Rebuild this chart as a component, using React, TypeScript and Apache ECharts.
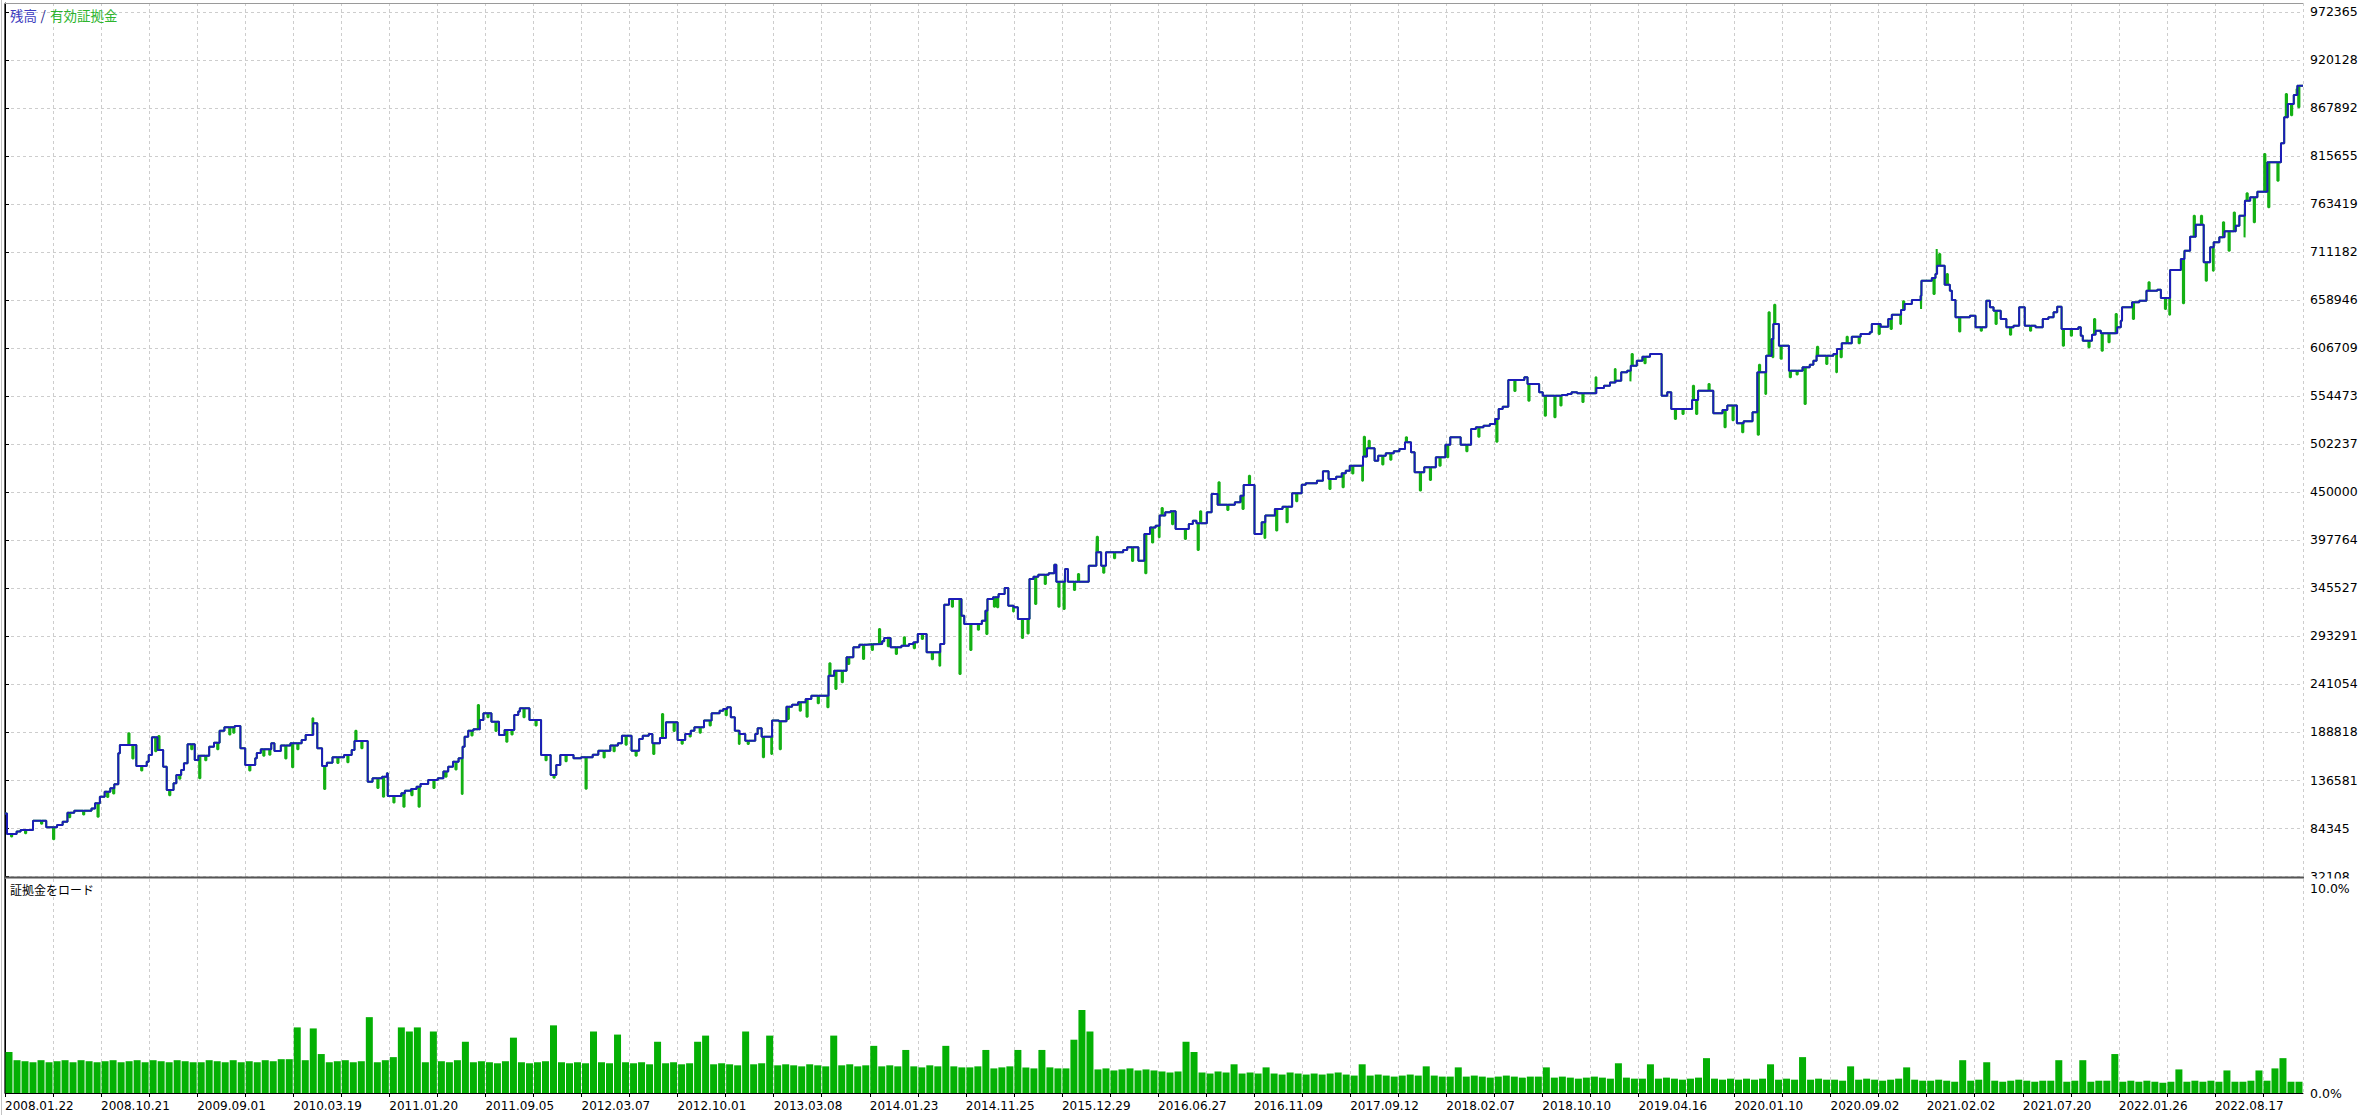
import React, { useEffect, useRef } from 'react';
import * as echarts from 'echarts';

// ---- axis texts ----
const dateLabels = [
  '2008.01.22', '2008.10.21', '2009.09.01', '2010.03.19', '2011.01.20', '2011.09.05',
  '2012.03.07', '2012.10.01', '2013.03.08', '2014.01.23', '2014.11.25', '2015.12.29',
  '2016.06.27', '2016.11.09', '2017.09.12', '2018.02.07', '2018.10.10', '2019.04.16',
  '2020.01.10', '2020.09.02', '2021.02.02', '2021.07.20', '2022.01.26', '2022.08.17',
];
const yTickLabels = [
  '32108', '84345', '136581', '188818', '241054', '293291', '345527', '397764', '450000',
  '502237', '554473', '606709', '658946', '711182', '763419', '815655', '867892', '920128', '972365',
];
const Y_MIN = 32108;
const Y_STEP = 52236.5;
const Y_TOP = 982159;
const TRADES = 574;
const LABEL_EVERY = 24;
const GRID_EVERY = 12;

// ---- balance: [trade number, balance after that trade] ----
const balance: [number, number][] = [
  [0,100000],[0.5,77800],[2.9,80400],[3.9,82200],[7,92300],[10.3,85100],[13,87600],[14.4,91200],[15.6,101000],[17.3,103200],
  [21.6,105700],[22.5,111200],[23.7,118400],[24.9,123900],[26.3,127500],[27.3,131900],[28.3,165600],[28.7,174700],[32.8,151800],[35.4,156500],
  [35.9,163800],[36.7,183000],[38.1,169200],[39.5,151100],[40.4,125700],[42.1,133000],[42.8,142000],[44,147500],[44.7,154700],[45.6,175400],
  [47.4,158400],[48.3,163100],[51,172900],[52.2,177200],[53.6,190300],[54.8,193900],[57.4,195400],[58.8,171000],[60,152900],[62.5,160200],
  [62.9,166000],[63.9,170000],[66.5,176500],[67.3,168100],[68.9,174000],[71.3,176500],[74.1,180100],[75.1,185600],[77,198300],[78,171000],
  [79.2,151800],[80.4,155400],[81.8,161300],[84.7,163800],[86.6,169200],[87.3,179000],[90.6,134800],[91.8,138400],[94.2,140200],[95.4,143800],
  [95.6,119200],[99,122100],[99.9,125000],[101.4,126800],[102.8,129300],[103.8,132200],[105.7,136600],[108.1,138400],[109.5,145700],[110.7,151100],
  [111.9,156500],[113.3,160200],[114.3,172900],[114.8,183700],[115.7,190300],[117,191700],[118.6,201900],[119.5,209100],[121.5,200100],[123.4,185600],
  [124.8,191000],[127.2,207300],[128.2,211000],[128.6,214600],[131,201900],[133.9,163800],[136.3,142000],[137.7,152900],[138.7,163800],[142,160200],
  [143.9,161300],[146.8,164000],[148.2,168500],[151.2,174000],[153.1,176500],[154.1,184800],[156.5,168500],[158.4,181200],[159.3,184800],[160.8,186700],
  [161.7,176500],[163.6,182300],[165.1,199300],[168,180100],[169.9,186700],[171.3,190300],[172.2,193900],[174.6,201200],[176.5,209100],[178.5,212000],
  [179.4,213900],[180.4,215700],[181.3,204800],[182.3,190300],[183.5,186700],[184.9,179400],[187.4,186700],[188,192800],[189,183700],[191.6,201200],
  [193.3,200400],[195.2,216400],[196.6,218600],[198.1,221100],[200,224700],[201.4,228400],[205.7,250100],[207.1,255600],[210.2,270100],[211.9,281000],
  [213.4,283900],[215.3,284600],[219.1,287500],[219.6,291100],[221.2,281000],[223.9,282800],[225.8,284600],[226.9,286400],[228,295500],[230.2,275500],
  [233.6,284600],[234.6,327400],[235.8,333600],[238.9,315400],[239.6,306400],[244,310000],[244.9,320900],[245.4,333600],[246.8,335400],[248.2,339000],
  [249.7,345500],[250.6,326300],[252,324500],[253,311800],[255.9,355300],[256.9,357900],[258.1,360000],[260.7,361500],[262.1,370900],[262.6,352400],
  [264.8,366200],[265.5,352400],[270.7,369800],[272.6,384300],[273.8,369800],[275,384300],[279.3,386900],[280.3,389800],[283.1,375300],[284.6,404300],
  [286,411500],[287.4,413400],[288.4,424300],[289.8,427900],[291.1,429000],[292.4,409700],[295.7,415200],[296.7,418800],[297.6,415900],[300.2,427900],
  [301.4,447800],[302.9,436200],[307.2,438800],[308.6,446000],[309.4,457600],[312.1,404300],[313.9,417000],[314.8,424300],[317.2,431500],[319.1,434000],
  [321.5,448600],[323.9,458000],[324.9,459400],[327.7,462300],[329.2,472500],[330.6,464200],[332.5,466700],[333.9,470300],[334.9,473200],[335.9,478700],
  [339.2,488500],[340.2,497500],[342.1,484100],[343,489500],[344.9,492100],[346.9,494300],[348.3,496800],[349.7,504100],[351.2,493200],[352.1,471400],
  [354.5,476800],[357.4,487700],[359.8,501500],[361,509500],[363.6,501500],[366.2,518600],[367.4,520400],[369.3,522200],[370.9,524000],[372.2,529400],
  [373.1,540300],[374.1,542900],[375.5,571900],[379.5,574800],[380.3,567500],[383.2,558500],[384.1,554800],[388.9,555600],[390.3,556700],[391.3,558500],
  [392.7,557400],[397.5,563200],[399.4,565700],[400.9,569300],[402.3,571200],[403.7,580200],[405.2,582000],[406.1,587500],[407.6,592900],[409,597300],
  [410.9,600200],[413.8,554800],[415.2,558500],[416.2,540300],[421.4,550100],[422.9,560300],[426.7,535600],[429,539200],[430.2,544000],[432.6,524700],
  [434.3,526900],[436.5,536700],[437.7,580200],[439.9,598400],[441.3,616500],[441.7,632800],[443.1,609200],[445.6,582000],[449,585700],[450.8,588600],
  [451.7,592900],[452.5,598400],[456.7,600200],[457.6,605600],[458.8,611800],[461.3,619000],[463.5,621900],[465.8,623800],[466.3,632800],[468.5,629900],
  [470.4,638300],[471.3,643000],[473.6,648100],[474.5,654600],[476.3,659000],[478.5,663700],[478.7,680000],[481.3,682900],[482.2,687200],[482.6,696300],
  [484.5,675600],[485.8,669100],[486.3,659000],[487.2,640100],[490.8,641900],[492.2,629200],[494.9,658200],[495.8,651000],[496.7,647300],[498.5,638300],
  [499.9,629200],[501.7,631000],[503.1,651000],[504.5,631000],[507.2,629200],[509,638300],[510.4,640100],[511.7,645500],[512.6,651700],[513.7,627400],
  [517.9,629200],[518.5,620100],[519,614700],[521.3,621200],[522.2,625600],[523.5,622700],[527.6,629200],[528.5,636500],[528.8,651000],[531.3,656400],
  [533.1,658200],[534.9,669100],[537.6,670200],[538.5,661100],[540.8,691600],[543.5,703600],[544.4,712600],[545.8,727900],[547.2,740900],[549.2,699900],
  [550.8,716300],[551.7,721700],[553.1,727100],[554.4,733700],[557.2,739800],[558.1,750700],[559.5,767000],[560.8,770700],[562.6,776700],[565.1,808800],
  [568.5,829400],[569.3,857700],[570.2,872200],[571.7,882000],[572.6,892200],[574,892200],
];

// ---- equity extremes while trades were open: [trade number, equity] ----
const equityNeedles: [number, number][] = [
  [1.5,75000],[5,78500],[9,89000],[12,72000],[16,96000],[19.5,99000],[23.1,96700],[25.5,118000],[27,122000],[30.8,187400],
  [31.8,160000],[34,147000],[37.5,168000],[38.3,184400],[41,120000],[43.5,138000],[46.5,170000],[48.5,138400],[50,158000],[53,170000],
  [56,186000],[57,188000],[61,147000],[64.5,163000],[66,164000],[70,160000],[71.7,150400],[73,170000],[76.8,203700],[79.7,126800],
  [83,155000],[85.5,156000],[87.5,190300],[89,171000],[93,128000],[94.4,118400],[97,112000],[99.5,107600],[101.5,120000],[103.3,107600],
  [107,128000],[110,140000],[112.5,148000],[114.1,121300],[116.5,185000],[118.1,218200],[120.5,205000],[122.5,190000],[125.2,178300],[126.5,186000],
  [129.5,205000],[132.5,196000],[135,158000],[137,139000],[140,157000],[145,127000],[149.5,161000],[152,168000],[155,175000],[157.5,163000],
  [161.9,164900],[164.1,208400],[167,190000],[169,176000],[171,184000],[173.5,188000],[176,196000],[180,207000],[183.3,175800],[185.5,175800],
  [189.3,161250],[191.4,165000],[193.5,170000],[195.5,203000],[198.5,212000],[200.2,205500],[203,220000],[205.4,215700],[205.9,263500],[207.4,235600],
  [209,243000],[210.6,262800],[214.3,268300],[216.5,278000],[218.3,300900],[220.5,282000],[222.5,273700],[224.5,291800],[227,280000],[229,290000],
  [231.5,268000],[233.4,261000],[236.5,325000],[238.4,251900],[241.1,278000],[243,300000],[245.1,295500],[247,325000],[247.8,324500],[251.8,320000],
  [254,291000],[255.4,296000],[257.3,328100],[259.7,349900],[263.1,325200],[264.4,322700],[267,343400],[268,360800],[272.7,401400],[274.3,362000],
  [277,378000],[281.5,375000],[284.8,361500],[286.5,395000],[288.2,400700],[288.9,432600],[291.5,415000],[294.7,398800],[297.9,386900],[298.5,429000],
  [303.1,460500],[305.3,430400],[309.1,431500],[310.7,467800],[314.6,400000],[317.5,408000],[320.1,417000],[322.5,440000],[330.8,453300],[334.1,455100],
  [336.5,470000],[339,462300],[339.4,510200],[340.6,505900],[344,480000],[346,485000],[349.9,509500],[353.4,451500],[355.9,463100],[358.3,478700],
  [360.2,487700],[365,494300],[368,510000],[372.5,504800],[377,560000],[380.5,549400],[384.6,533100],[387,531300],[388.5,544000],[394,548000],
  [397.3,574800],[402.1,583900],[406,570400],[406.3,600200],[409.5,590000],[417.1,529400],[419,535000],[421.6,565700],[422.4,534900],[425.5,567500],
  [429.5,520400],[431.5,528000],[433.9,514900],[437.8,512400],[438.1,588600],[439.7,556600],[440.5,645500],[441.5,596600],[441.9,653900],[443.5,595000],
  [445.8,574800],[447.5,578000],[449.5,545800],[452.6,608100],[454.9,589300],[457.4,580200],[458.5,596600],[460,619000],[463,612000],[468,622000],
  [471,627400],[473.4,632800],[474.1,657500],[478.6,649100],[481.7,665500],[482.5,714400],[483.1,709000],[485,687200],[488.1,624800],[493.5,625600],
  [497.2,632800],[500.8,621200],[505.8,625600],[514,609200],[516,620000],[520.4,607400],[521.8,638300],[523.7,603800],[525.4,612900],[527.2,643700],
  [531.5,638300],[535.4,678200],[539.5,649100],[540.6,642900],[544,655300],[546.7,750700],[548.5,750700],[549.7,680000],[551.5,690800],[554,743500],
  [555.4,712600],[556.7,754300],[559.4,727100],[559.9,775000],[561.7,743500],[564.3,817800],[565.3,759800],[567.6,788800],[569.7,883100],[571,860000],
  [572.4,888600],[572.8,868600],
];

// ---- margin load in %, one bar per two trades ----
const marginLoad: number[] = [
  2.0,1.6,1.55,1.5,1.6,1.5,1.55,1.6,1.5,1.6,1.55,1.5,
  1.55,1.6,1.5,1.55,1.6,1.5,1.6,1.55,1.5,1.6,1.55,1.5,
  1.5,1.6,1.55,1.5,1.6,1.5,1.55,1.5,1.6,1.55,1.65,1.65,
  3.2,1.6,3.15,1.9,1.5,1.55,1.6,1.5,1.55,3.7,1.5,1.6,
  1.75,3.2,3.0,3.2,1.5,3.0,1.55,1.5,1.6,2.5,1.5,1.55,
  1.5,1.45,1.55,2.7,1.5,1.45,1.5,1.55,3.3,1.5,1.45,1.5,
  1.45,3.0,1.5,1.45,2.85,1.5,1.45,1.5,1.4,2.5,1.45,1.5,
  1.4,1.45,2.5,2.8,1.4,1.45,1.4,1.35,3.0,1.4,1.45,2.8,
  1.35,1.4,1.35,1.3,1.4,1.35,1.3,2.8,1.35,1.4,1.3,1.35,
  2.3,1.3,1.35,1.3,2.1,1.3,1.25,1.35,1.3,2.3,1.3,1.25,
  1.25,1.3,2.1,1.2,1.25,1.3,2.1,1.25,1.2,2.1,1.25,1.2,
  1.2,2.6,4.05,3.0,1.15,1.2,1.1,1.15,1.2,1.1,1.15,1.1,
  1.05,1.0,1.05,2.5,2.0,1.0,0.95,1.05,1.0,1.4,0.95,1.0,
  0.95,1.25,0.95,0.9,1.0,0.95,0.9,0.95,0.9,0.95,1.0,0.9,
  0.85,1.4,0.85,0.9,0.85,0.8,0.85,0.9,0.85,1.3,0.85,0.8,
  0.8,1.25,0.8,0.85,0.8,0.75,0.8,0.85,0.8,0.75,0.8,0.8,
  1.25,0.75,0.8,0.75,0.7,0.75,0.8,0.75,0.7,1.45,0.75,0.7,
  0.7,1.4,0.7,0.75,0.7,0.65,0.7,0.75,1.7,0.7,0.65,0.7,
  0.65,0.7,0.65,0.7,1.4,0.65,0.7,0.65,1.75,0.65,0.7,0.65,
  0.65,0.6,1.3,0.65,0.7,0.65,0.6,0.65,0.7,1.25,0.65,0.6,
  0.6,0.65,0.6,0.55,1.6,0.6,0.65,1.5,0.6,0.55,0.6,0.65,
  0.6,0.55,0.6,0.6,1.6,0.55,0.6,1.6,0.55,0.6,0.6,1.9,
  0.55,0.6,0.55,0.6,0.55,0.5,0.55,1.15,0.55,0.6,0.55,0.6,
  0.55,1.1,0.55,0.55,0.6,1.1,0.6,1.2,1.7,0.55,0.55,
];

const NUM_FONT = "'DejaVu Sans', Verdana, sans-serif";
const CJK_FONT = "'Noto Sans CJK JP', 'Noto Sans', sans-serif";
const GRID_COLOR = '#cdcdcd';

function balanceAt(t: number): number {
  let v = balance[0][1];
  for (const p of balance) {
    if (p[0] <= t) v = p[1];
    else break;
  }
  return v;
}

function buildEquity(): [number, number][] {
  const pts: [number, number][] = balance.map((p) => [p[0], p[1]] as [number, number]);
  const w = 0.3;
  for (const [t, v] of equityNeedles) {
    pts.push([t, v]);
    pts.push([t + w, balanceAt(t + w)]);
  }
  pts.sort((a, b) => a[0] - b[0]);
  return pts;
}

export default function App() {
  const ref = useRef<HTMLDivElement>(null);
  useEffect(() => {
    document.body.style.margin = '0';
    if (!ref.current) return;
    const chart = echarts.init(ref.current, undefined, { renderer: 'svg' });

    const equity = buildEquity().map(([x, y]) => [x, y - Y_MIN]);
    const bal = balance.map(([x, y]) => [x, y - Y_MIN]);
    const bars = marginLoad.map((v, i) => [i * 2 + 1, v]);

    const yFmt = (v: number) => {
      const k = Math.round(v / Y_STEP);
      if (Math.abs(v - k * Y_STEP) > 1) return '';
      return yTickLabels[k] ?? '';
    };
    const xFmt = (v: number) => {
      if (v % LABEL_EVERY !== 0) return '';
      return dateLabels[v / LABEL_EVERY] ?? '';
    };

    const dashed = { color: GRID_COLOR, type: [3, 3] as any, width: 1 };

    chart.setOption({
      animation: false,
      backgroundColor: '#ffffff',
      grid: [
        { left: 5, right: 65, top: 3, height: 873, show: false },
        { left: 5, right: 65, top: 879, bottom: 22, show: false },
      ],
      xAxis: [
        {
          type: 'value', gridIndex: 0, min: 0, max: TRADES, interval: GRID_EVERY,
          axisLine: { show: false }, axisTick: { show: false }, axisLabel: { show: false },
          splitLine: { show: true, lineStyle: dashed },
        },
        {
          type: 'value', gridIndex: 1, min: 0, max: TRADES, interval: GRID_EVERY,
          axisLine: { show: true, onZero: false, lineStyle: { color: '#000', width: 1 } },
          axisTick: { show: true, length: 4, lineStyle: { color: '#000' } },
          axisLabel: {
            show: true, formatter: xFmt, align: 'left', margin: 7, color: '#000',
            fontFamily: NUM_FONT, fontSize: 12, showMaxLabel: false,
          },
          splitLine: { show: true, lineStyle: dashed },
        },
      ],
      yAxis: [
        {
          type: 'value', gridIndex: 0, position: 'right', min: 0, max: Y_TOP - Y_MIN, interval: Y_STEP,
          axisLine: { show: true, lineStyle: { color: '#000', width: 1 } },
          axisTick: { show: true, length: 4, lineStyle: { color: '#000' } },
          axisLabel: {
            formatter: yFmt, margin: 7, color: '#000', fontFamily: NUM_FONT, fontSize: 12.5,
            showMaxLabel: false,
          },
          splitLine: { show: true, lineStyle: dashed },
        },
        {
          type: 'value', gridIndex: 1, position: 'right', min: 0, max: 10.44, interval: 10,
          axisLine: { show: true, lineStyle: { color: '#000', width: 1 } },
          axisTick: { show: false },
          axisLabel: {
            formatter: (v: number) => (v === 0 || v === 10 ? v.toFixed(1) + '%' : ''),
            margin: 7, color: '#000', fontFamily: NUM_FONT, fontSize: 12.5, showMaxLabel: false,
          },
          splitLine: { show: false },
        },
      ],
      series: [
        {
          name: '有効証拠金', type: 'line', xAxisIndex: 0, yAxisIndex: 0, step: 'end',
          symbol: 'none', data: equity, z: 2,
          lineStyle: { color: '#14b014', width: 2 },
        },
        {
          name: '残高', type: 'line', xAxisIndex: 0, yAxisIndex: 0, step: 'end',
          symbol: 'none', data: bal, z: 3,
          lineStyle: { color: '#1c1cb8', width: 2 },
        },
        {
          name: '証拠金をロード', type: 'bar', xAxisIndex: 1, yAxisIndex: 1,
          barWidth: 7, data: bars, itemStyle: { color: '#04b004' },
        },
      ],
      graphic: [
        { type: 'line', shape: { x1: 1.5, y1: 0, x2: 1.5, y2: 1115 }, style: { stroke: '#c4c4c4', lineWidth: 1 }, z: 50 },
        { type: 'line', shape: { x1: 4.5, y1: 3, x2: 4.5, y2: 1093 }, style: { stroke: '#606060', lineWidth: 1 }, z: 50 },
        { type: 'line', shape: { x1: 4, y1: 3.5, x2: 2303, y2: 3.5 }, style: { stroke: '#9a9a9a', lineWidth: 1 }, z: 50 },
        { type: 'rect', shape: { x: 2305, y: 878.5, width: 63, height: 5 }, style: { fill: '#ffffff' }, z: 60 },
        { type: 'line', shape: { x1: 4, y1: 877.5, x2: 2304, y2: 877.5 }, style: { stroke: '#555555', lineWidth: 2 }, z: 61 },
        {
          type: 'text', x: 10, y: 15, z: 70,
          style: { text: '残高', fill: '#3c3cc0', font: `13.5px ${CJK_FONT}`, verticalAlign: 'middle' },
        },
        {
          type: 'text', x: 40.5, y: 15, z: 70,
          style: { text: '/', fill: '#1c1c8c', font: `13.5px ${CJK_FONT}`, verticalAlign: 'middle' },
        },
        {
          type: 'text', x: 50, y: 15, z: 70,
          style: { text: '有効証拠金', fill: '#2db42d', font: `13.5px ${CJK_FONT}`, verticalAlign: 'middle' },
        },
        {
          type: 'text', x: 10, y: 889, z: 70,
          style: { text: '証拠金をロード', fill: '#000000', font: `12px ${CJK_FONT}`, verticalAlign: 'middle' },
        },
      ],
    });
    return () => chart.dispose();
  }, []);
  return <div ref={ref} style={{ width: 2368, height: 1115, background: '#fff' }} />;
}
